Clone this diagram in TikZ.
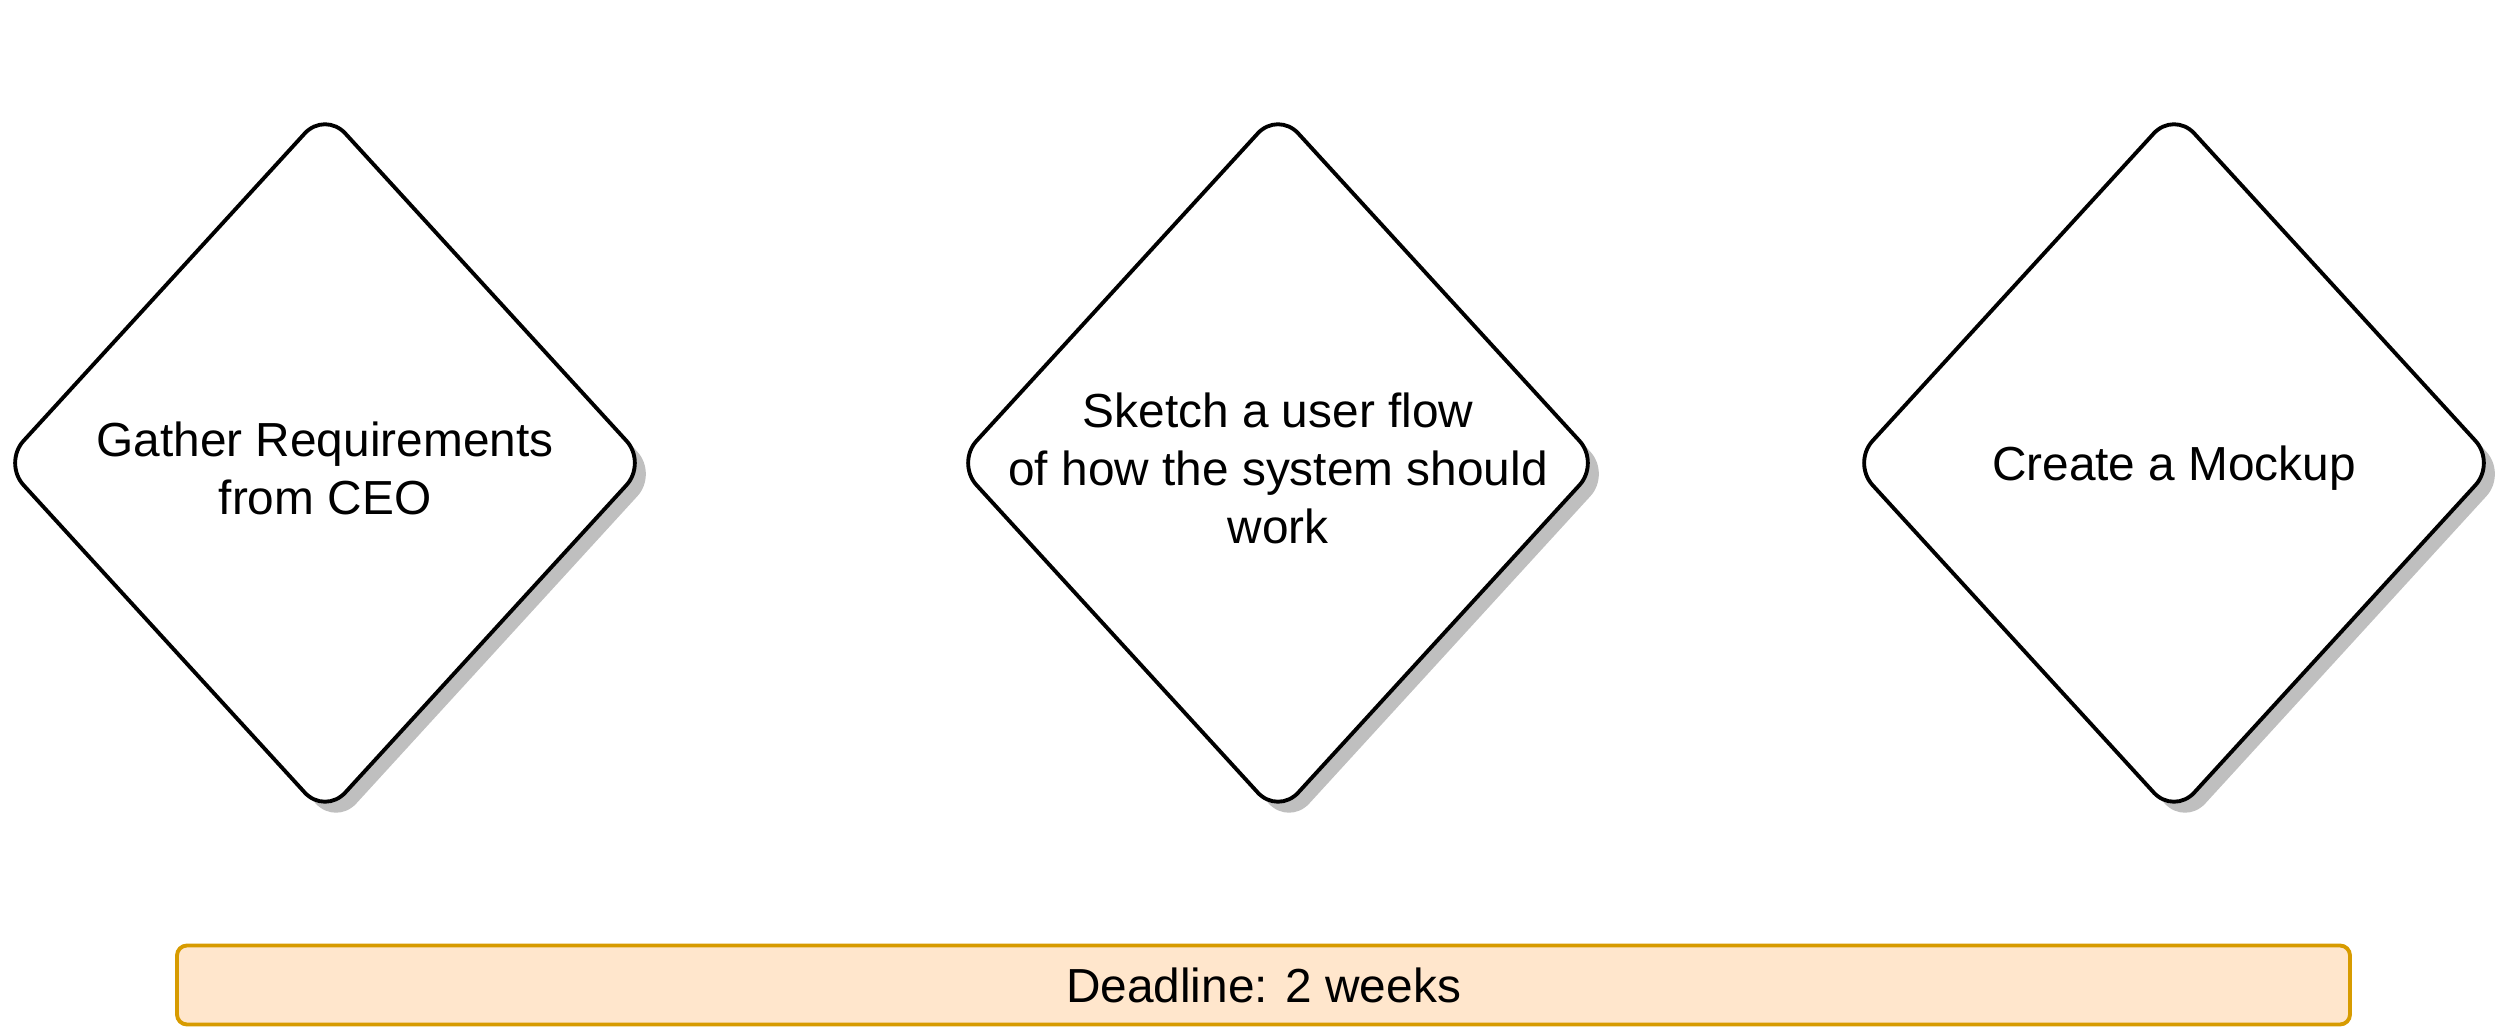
\documentclass[tikz,border=0pt]{standalone}
\usepackage{fontspec}
\setmainfont{Liberation Sans}
\usetikzlibrary{shapes.geometric,shadows}

\tikzset{
    etape/.style={diamond, draw, line width=1.1pt, fill=white, rounded corners=0.3cm,
        minimum width=6.45cm, minimum height=7.05cm, inner sep=0pt,
        drop shadow={shadow xshift=0.11cm, shadow yshift=-0.11cm, fill=black!25, opacity=1}},
    libelle/.style={align=center, inner sep=0pt, font=\fontsize{13.6}{16.5}\selectfont},
    delai/.style={draw=echeance, fill=echeancefond, line width=1.1pt, rounded corners=0.1cm,
        minimum width=21.73cm, minimum height=0.79cm, inner sep=0pt,
        font=\fontsize{13.6}{16.5}\selectfont}
}
\definecolor{echeance}{HTML}{D79B00}
\definecolor{echeancefond}{HTML}{FFE6CC}

\begin{document}
\begin{tikzpicture}
        \useasboundingbox (0,0) rectangle (25.08,10.28);

        % les trois etapes
        \draw (3.25,5.65) node[etape] (Besoins) {};
        \draw (12.78,5.65) node[etape] (Parcours) {};
        \draw (21.74,5.65) node[etape] (Maquette) {};

        % textes des etapes
        \draw (Besoins) ++ (0,-0.05) node[libelle] (BesoinsTxt) {Gather Requirements\\from CEO};
        \draw (Parcours) ++ (0,-0.05) node[libelle] (ParcoursTxt) {Sketch a user flow\\of how the system should\\work};
        \draw (Maquette) ++ (0,-0.05) node[libelle] (MaquetteTxt) {Create a Mockup};

        % barre de delai
        \draw (12.635,0.43) node[delai] (Delai) {Deadline: 2 weeks};
    \end{tikzpicture}
\end{document}
